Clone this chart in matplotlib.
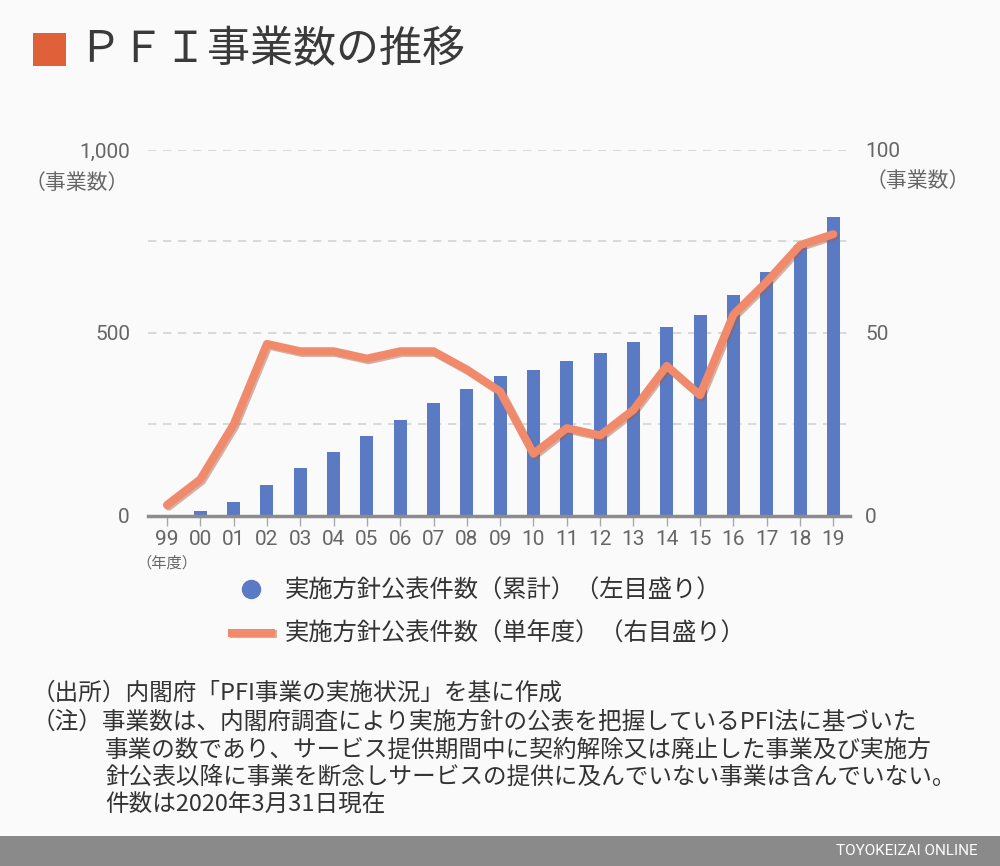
import numpy as np
import matplotlib
matplotlib.use('Agg')
import matplotlib.pyplot as plt
import matplotlib.patheffects as pe
from matplotlib.lines import Line2D
from matplotlib.patches import Rectangle

plt.rcParams['font.family'] = ['Roboto', 'Noto Sans CJK JP', 'DejaVu Sans']

years = ['99', '00', '01', '02', '03', '04', '05', '06', '07', '08', '09',
         '10', '11', '12', '13', '14', '15', '16', '17', '18', '19']
cumulative = [3, 13, 38, 85, 130, 175, 218, 263, 308, 348, 382,
              399, 423, 445, 474, 515, 548, 603, 667, 741, 818]
yearly = [3, 10, 25, 47, 45, 45, 43, 45, 45, 40, 34,
          17, 24, 22, 29, 41, 33, 55, 64, 74, 77]

left_ticks = [0, 250, 500, 750, 1000]
left_ticklabels = ['0', '', '500', '', '1,000']
right_ticks = [0, 50, 100]

bar_color = '#5B7AC4'
line_color = '#F08A6A'
bg = '#FAFAFA'
tick_color = '#666666'
shadow = [pe.SimpleLineShadow(offset=(1.2, -1.2), shadow_color='#a05a40', alpha=0.45),
          pe.Normal()]

fig = plt.figure(figsize=(10, 8.66), dpi=100, facecolor=bg)
ax = fig.add_axes([0.148, 0.4042, 0.702, 0.4226], facecolor=bg)
x = np.arange(len(years))

ax.bar(x, cumulative, width=0.39, color=bar_color, zorder=2)
ax.set_ylim(0, 1000)
ax.set_xlim(-0.57, 20.5)
ax.set_yticks(left_ticks)
ax.set_yticklabels(left_ticklabels)
ax.yaxis.grid(True, linestyle=(0, (5, 4)), color='#d3d3d3', linewidth=1.2)
ax.set_axisbelow(True)
ax.tick_params(axis='y', length=0, pad=13, labelsize=15, labelcolor=tick_color)
ax.set_xticks(x)
ax.set_xticklabels(years)
ax.tick_params(axis='x', length=7, width=1, color='#aaaaaa', pad=3,
               labelsize=15, labelcolor=tick_color)
for s in ['top', 'left', 'right']:
    ax.spines[s].set_visible(False)
ax.spines['bottom'].set_color('#8c8c8c')
ax.spines['bottom'].set_linewidth(2.5)
ax.spines['bottom'].set_zorder(5)

ax2 = ax.twinx()
ax2.set_ylim(0, 100)
ax2.set_yticks(right_ticks)
ax2.tick_params(axis='y', length=0, pad=11, labelsize=15, labelcolor=tick_color)
for s in ['top', 'left', 'right', 'bottom']:
    ax2.spines[s].set_visible(False)
ax2.plot(x, yearly, color=line_color, linewidth=5.8, solid_capstyle='round',
         solid_joinstyle='round', zorder=3, path_effects=shadow)

# axis unit labels
fig.text(0.129, 1 - 183 / 866, '（事業数）', ha='right', va='center',
         fontsize=15, color=tick_color, family='Noto Sans CJK JP')
fig.text(0.866, 1 - 181 / 866, '（事業数）', ha='left', va='center',
         fontsize=15, color=tick_color, family='Noto Sans CJK JP')
fig.text(0.167, 1 - 563 / 866, '（年度）', ha='center', va='center',
         fontsize=11, color=tick_color, family='Noto Sans CJK JP')

# title
fig.patches.append(Rectangle((33 / 1000, 1 - 66 / 866), 33 / 1000, 33 / 866,
                             transform=fig.transFigure, facecolor='#E0603A',
                             edgecolor='none'))
fig.text(0.078, 1 - 50 / 866, 'ＰＦＩ事業数の推移', ha='left', va='center',
         fontsize=31, color='#3a3a3a', family='Noto Sans CJK JP')

# legend
handles = [Line2D([], [], marker='o', linestyle='none', markersize=13,
                  markerfacecolor=bar_color, markeredgecolor=bar_color),
           Line2D([], [], color=line_color, linewidth=5.8, path_effects=shadow)]
labels = ['実施方針公表件数（累計）（左目盛り）', '実施方針公表件数（単年度）（右目盛り）']
fig.legend(handles, labels, loc='upper left', bbox_to_anchor=(0.232, 1 - 578 / 866),
           frameon=False, borderpad=0, borderaxespad=0, handlelength=1.6,
           handletextpad=0.55, labelspacing=0.7,
           prop={'family': 'Noto Sans CJK JP', 'size': 17.5},
           labelcolor='#333333')

# notes
notes = [
    (0.032, '（出所）内閣府「PFI事業の実施状況」を基に作成'),
    (0.032, '（注）事業数は、内閣府調査により実施方針の公表を把握しているPFI法に基づいた'),
    (0.105, '事業の数であり、サービス提供期間中に契約解除又は廃止した事業及び実施方'),
    (0.105, '針公表以降に事業を断念しサービスの提供に及んでいない事業は含んでいない。'),
    (0.105, '件数は2020年3月31日現在'),
]
note_y = [693, 722, 750, 777, 805]
for (nx, txt), ny in zip(notes, note_y):
    fig.text(nx, 1 - ny / 866, txt, ha='left', va='center', fontsize=17,
             color='#333333', family='Noto Sans CJK JP')

# footer band
fig.patches.append(Rectangle((0, 0), 1, 30 / 866, transform=fig.transFigure,
                             facecolor='#8a8a8a', edgecolor='none'))
fig.text(0.978, 15 / 866, 'TOYOKEIZAI ONLINE', ha='right', va='center',
         fontsize=11, color='white', family='Roboto')

fig.savefig('out.png', dpi=100, facecolor=bg)
